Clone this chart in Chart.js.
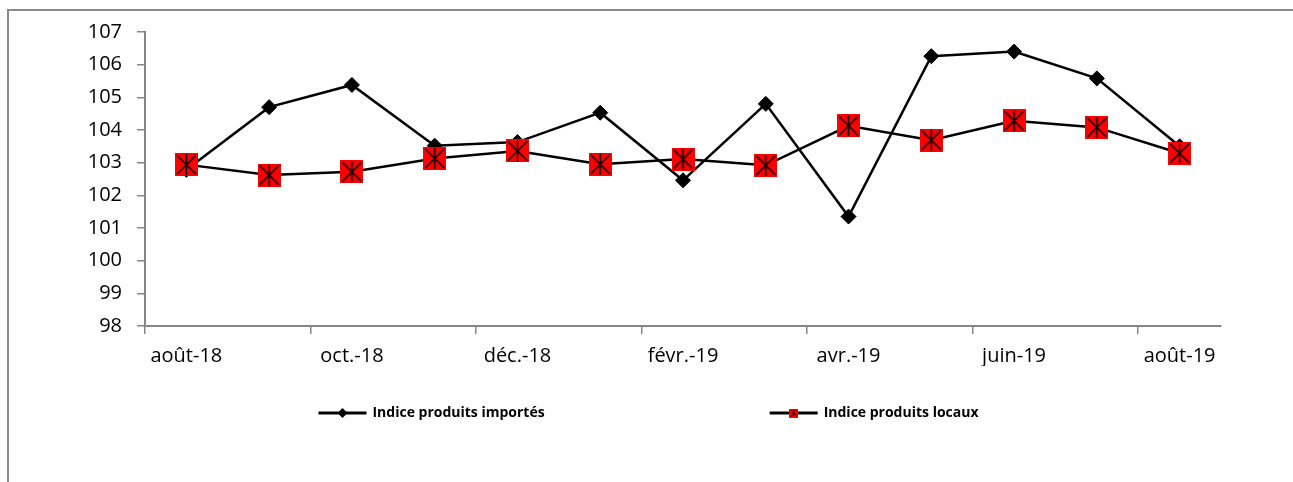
<!DOCTYPE html>
<html>
<head>
<meta charset="utf-8">
<script src="https://cdn.jsdelivr.net/npm/chart.js@4"></script>
<style>
  html, body { margin: 0; padding: 0; background: #fff; overflow: hidden; }
  #frame { position: absolute; left: 7px; top: 9px; width: 1400px; height: 600px; border: 2px solid #8a8a8a; }
  #wrap { position: absolute; left: 0; top: 0; width: 1293px; height: 482px; }
</style>
</head>
<body>
<div id="frame"></div>
<div id="wrap"><canvas id="myChart"></canvas></div>
<script>
const mois = ['août-18', 'sept.-18', 'oct.-18', 'nov.-18', 'déc.-18', 'janv.-19', 'févr.-19',
  'mars-19', 'avr.-19', 'mai-19', 'juin-19', 'juil.-19', 'août-19']
const importes = [102.78, 104.70, 105.38, 103.52, 103.63, 104.53, 102.46, 104.80, 101.35, 106.26, 106.40, 105.58, 103.50]
const locaux = [102.94, 102.62, 102.72, 103.13, 103.36, 102.95, 103.11, 102.92, 104.13, 103.69, 104.28, 104.08, 103.29]
const yMin = 98
const yMax = 107

// carré rouge avec étoile, comme le marqueur d'Excel
function starSquare(size) {
    const c = document.createElement('canvas')
    c.width = size
    c.height = size
    const g = c.getContext('2d')
    g.fillStyle = '#ff0000'
    g.fillRect(0, 0, size, size)
    g.strokeStyle = '#000'
    g.lineWidth = size > 12 ? 1.5 : 1
    const m = size > 12 ? 2 : 1.5
    g.beginPath()
    g.moveTo(m, m); g.lineTo(size - m, size - m)
    g.moveTo(size - m, m); g.lineTo(m, size - m)
    g.moveTo(size / 2, 1); g.lineTo(size / 2, size - 1)
    g.stroke()
    return c
}
const marqueurLocal = starSquare(23)
const marqueurLegende = starSquare(9)

const grisAxe = '#868686'

const legendePlugin = {
    id: 'legendeBas',
    afterDraw(chart) {
        const ctx = chart.ctx
        const items = chart.data.datasets
        ctx.save()
        ctx.font = 'bold 14px "Open Sans"'
        const lineW = 48, gap = 6, space = 225
        const widths = items.map((d) => lineW + gap + ctx.measureText(d.label).width)
        const total = widths.reduce((a, b) => a + b, 0) + space * (items.length - 1)
        let x = (chart.width - total) / 2 + 2
        const y = 413
        items.forEach((d, i) => {
            ctx.strokeStyle = '#000'
            ctx.lineWidth = 3
            ctx.beginPath()
            ctx.moveTo(x, y)
            ctx.lineTo(x + lineW, y)
            ctx.stroke()
            const cx = x + lineW / 2
            if (i === 0) {
                ctx.fillStyle = '#000'
                ctx.beginPath()
                ctx.moveTo(cx - 5, y); ctx.lineTo(cx, y - 5); ctx.lineTo(cx + 5, y); ctx.lineTo(cx, y + 5)
                ctx.closePath()
                ctx.fill()
            } else {
                ctx.drawImage(marqueurLegende, cx - 4.5, y - 4.5)
            }
            ctx.fillStyle = '#000'
            ctx.textBaseline = 'middle'
            ctx.fillText(d.label, x + lineW + gap, y)
            x += widths[i] + space
        })
        ctx.restore()
    },
}

const chart = new Chart(document.getElementById('myChart'), {
    type: 'line',
    data: {
        labels: mois,
        datasets: [
            {
                label: 'Indice produits importés',
                data: importes,
                borderColor: '#000',
                backgroundColor: '#000',
                borderWidth: 2.5,
                pointStyle: 'rectRot',
                pointRadius: 7.5,
                pointBorderWidth: 1,
                tension: 0,
                order: 1,
            },
            {
                label: 'Indice produits locaux',
                data: locaux,
                borderColor: '#000',
                backgroundColor: '#ff0000',
                borderWidth: 2.5,
                pointStyle: marqueurLocal,
                tension: 0,
                order: 0,
            },
        ],
    },
    options: {
        responsive: true,
        maintainAspectRatio: false,
        animation: false,
        layout: { padding: { left: 0, right: 72, top: 32, bottom: 116 } },
        plugins: {
            legend: { display: false },
            tooltip: { enabled: false },
        },
        scales: {
            x: {
                offset: true,
                afterFit: (s) => { s.height = 40 },
                border: { color: grisAxe, width: 2 },
                grid: {
                    offset: true,
                    drawOnChartArea: false,
                    tickLength: 8,
                    lineWidth: 1.5,
                    color: (c) => (c.index % 2 === 0 ? grisAxe : 'rgba(0,0,0,0)'),
                },
                ticks: {
                    autoSkip: false,
                    maxRotation: 0,
                    padding: 10,
                    color: '#000',
                    font: { family: 'Open Sans', size: 20 },
                    callback: (v, i) => (i % 2 === 0 ? mois[i] : ''),
                },
            },
            y: {
                min: yMin,
                max: yMax,
                afterFit: (s) => { s.width = 145 },
                border: { color: grisAxe, width: 2 },
                grid: { drawOnChartArea: false, tickLength: 8, lineWidth: 1.5, color: grisAxe },
                ticks: {
                    stepSize: 1,
                    padding: 15,
                    color: '#000',
                    font: { family: 'Open Sans', size: 20 },
                },
            },
        },
    },
    plugins: [legendePlugin],
})
</script>
</body>
</html>
